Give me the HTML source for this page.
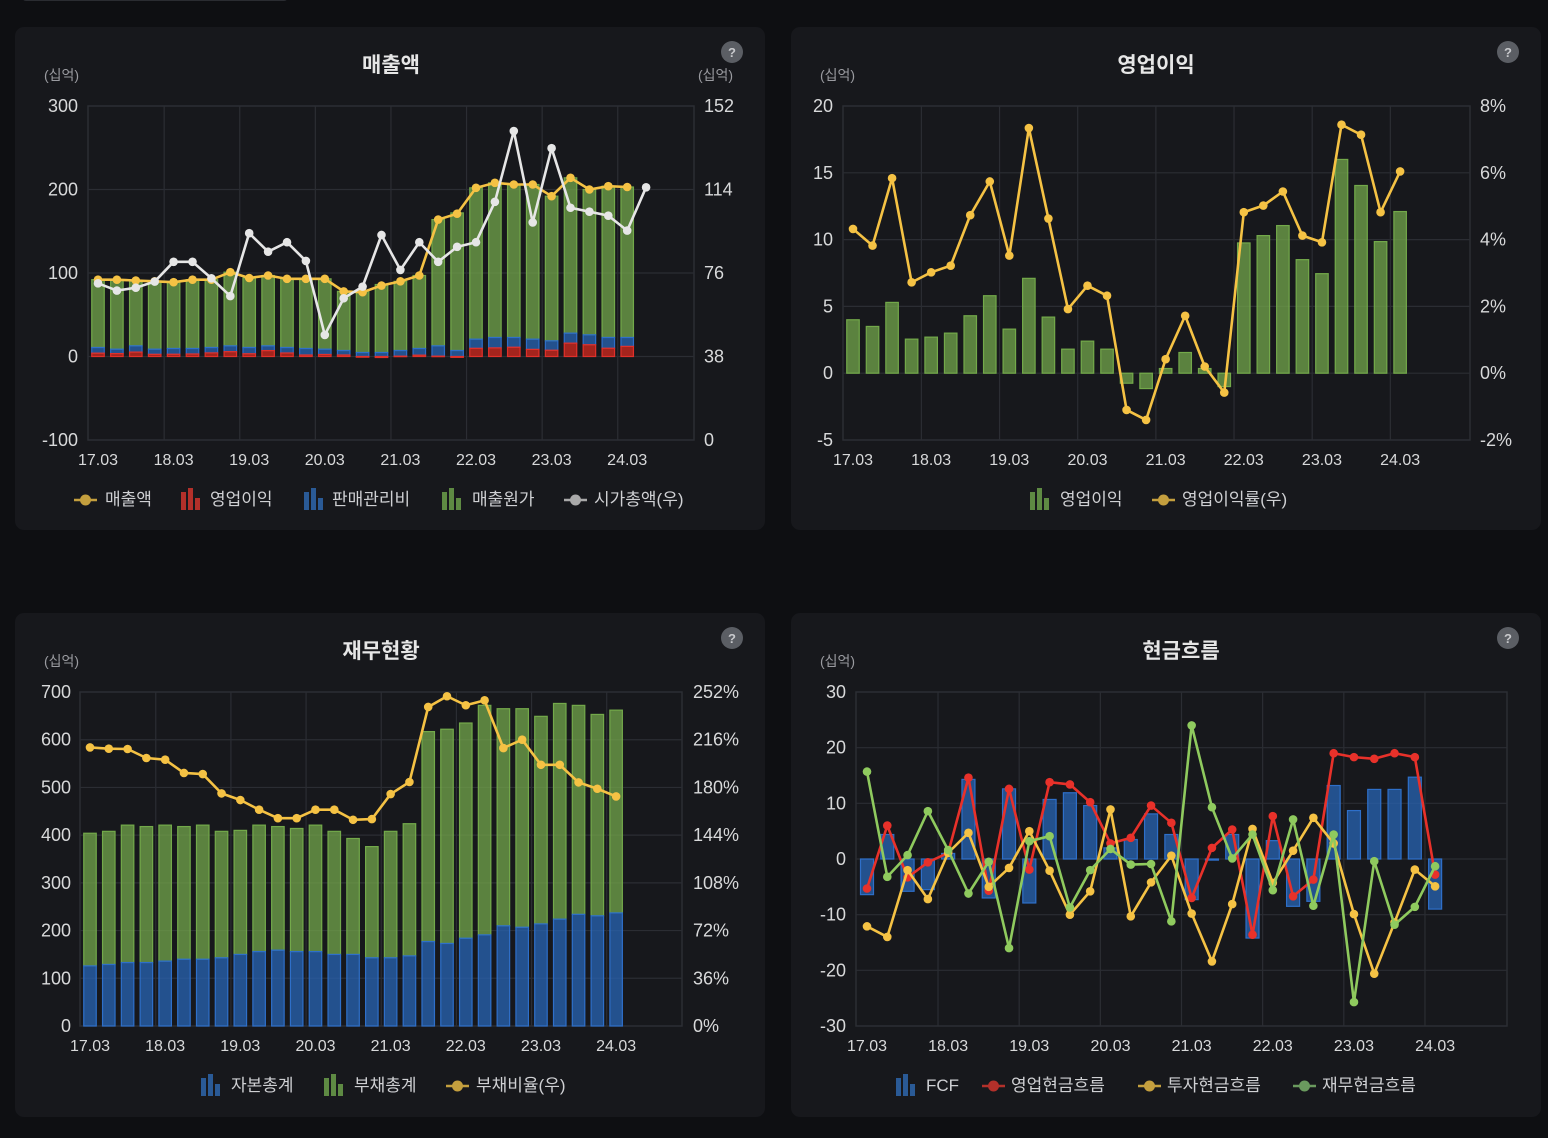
<!DOCTYPE html>
<html><head><meta charset="utf-8">
<style>
html,body{margin:0;padding:0;background:#0e0f12;}
svg{display:block;font-family:"Liberation Sans","Noto Sans CJK KR",sans-serif;}
</style></head>
<body>
<svg id="root" width="1548" height="1138" viewBox="0 0 1548 1138" xmlns="http://www.w3.org/2000/svg">
<rect x="0" y="0" width="1548" height="1138" fill="#0e0f12"/>
<rect x="22" y="-10" width="266" height="11" rx="4" fill="#2a2c31"/>
<rect x="15" y="27" width="750" height="503" rx="9" fill="#17181c"/>
<rect x="791" y="27" width="750" height="503" rx="9" fill="#17181c"/>
<rect x="15" y="613" width="750" height="504" rx="9" fill="#17181c"/>
<rect x="791" y="613" width="750" height="504" rx="9" fill="#17181c"/>

<g fill="#e6e6e6" font-weight="bold" font-size="21" text-anchor="middle">
<text x="391" y="72">매출액</text>
<text x="1156" y="72">영업이익</text>
<text x="381" y="658">재무현황</text>
<text x="1181" y="658">현금흐름</text>
</g>
<g fill="#5b5e64">
<circle cx="732" cy="52" r="11"/>
<circle cx="1508" cy="52" r="11"/>
<circle cx="732" cy="638" r="11"/>
<circle cx="1508" cy="638" r="11"/>
</g>
<g fill="#c8c9cc" font-size="13" text-anchor="middle" font-weight="bold">
<text x="732" y="57">?</text><text x="1508" y="57">?</text><text x="732" y="643">?</text><text x="1508" y="643">?</text>
</g>
<g fill="#9a9ba0" font-size="14">
<text x="44" y="80">(십억)</text>
<text x="698" y="80">(십억)</text>
<text x="820" y="80">(십억)</text>
<text x="44" y="666">(십억)</text>
<text x="820" y="666">(십억)</text>
</g>
<g id="c1"></g>
<g id="c2"></g>
<g id="c3"></g>
<g id="c4"></g>

<!-- legends -->
<g font-size="17" fill="#cfd0d3">
<g><line x1="74" y1="500" x2="97" y2="500" stroke="#c49f3e" stroke-width="2.5"/><circle cx="85.5" cy="500" r="5.5" fill="#c49f3e"/><text x="105" y="505">매출액</text></g>
<g><rect x="181" y="492" width="5" height="18" fill="#b3302a"/><rect x="188" y="488" width="5" height="22" fill="#b3302a"/><rect x="195" y="498" width="5" height="12" fill="#b3302a"/><text x="210" y="505">영업이익</text></g>
<g><rect x="304" y="492" width="5" height="18" fill="#2a5a96"/><rect x="311" y="488" width="5" height="22" fill="#2a5a96"/><rect x="318" y="498" width="5" height="12" fill="#2a5a96"/><text x="332" y="505">판매관리비</text></g>
<g><rect x="442" y="492" width="5" height="18" fill="#5e8a43"/><rect x="449" y="488" width="5" height="22" fill="#5e8a43"/><rect x="456" y="498" width="5" height="12" fill="#5e8a43"/><text x="472" y="505">매출원가</text></g>
<g><line x1="564" y1="500" x2="587" y2="500" stroke="#a9a9a9" stroke-width="2.5"/><circle cx="575.5" cy="500" r="5.5" fill="#a9a9a9"/><text x="594" y="505">시가총액(우)</text></g>

<g><rect x="1030" y="492" width="5" height="18" fill="#5e8a43"/><rect x="1037" y="488" width="5" height="22" fill="#5e8a43"/><rect x="1044" y="498" width="5" height="12" fill="#5e8a43"/><text x="1060" y="505">영업이익</text></g>
<g><line x1="1152" y1="500" x2="1175" y2="500" stroke="#c49f3e" stroke-width="2.5"/><circle cx="1163.5" cy="500" r="5.5" fill="#c49f3e"/><text x="1182" y="505">영업이익률(우)</text></g>

<g><rect x="201" y="1078" width="5" height="18" fill="#2a5a96"/><rect x="208" y="1074" width="5" height="22" fill="#2a5a96"/><rect x="215" y="1084" width="5" height="12" fill="#2a5a96"/><text x="231" y="1091">자본총계</text></g>
<g><rect x="324" y="1078" width="5" height="18" fill="#5e8a43"/><rect x="331" y="1074" width="5" height="22" fill="#5e8a43"/><rect x="338" y="1084" width="5" height="12" fill="#5e8a43"/><text x="354" y="1091">부채총계</text></g>
<g><line x1="446" y1="1086" x2="469" y2="1086" stroke="#c49f3e" stroke-width="2.5"/><circle cx="457.5" cy="1086" r="5.5" fill="#c49f3e"/><text x="476" y="1091">부채비율(우)</text></g>

<g><rect x="896" y="1078" width="5" height="18" fill="#2a5a96"/><rect x="903" y="1074" width="5" height="22" fill="#2a5a96"/><rect x="910" y="1084" width="5" height="12" fill="#2a5a96"/><text x="926" y="1091">FCF</text></g>
<g><line x1="982" y1="1086" x2="1005" y2="1086" stroke="#b3302a" stroke-width="2.5"/><circle cx="993.5" cy="1086" r="5.5" fill="#b3302a"/><text x="1011" y="1091">영업현금흐름</text></g>
<g><line x1="1138" y1="1086" x2="1161" y2="1086" stroke="#c49f3e" stroke-width="2.5"/><circle cx="1149.5" cy="1086" r="5.5" fill="#c49f3e"/><text x="1167" y="1091">투자현금흐름</text></g>
<g><line x1="1293" y1="1086" x2="1316" y2="1086" stroke="#6a9a5e" stroke-width="2.5"/><circle cx="1304.5" cy="1086" r="5.5" fill="#6a9a5e"/><text x="1322" y="1091">재무현금흐름</text></g>
</g>
</svg>
<script>
const quarters = ['17.03','17.06','17.09','17.12','18.03','18.06','18.09','18.12','19.03','19.06','19.09','19.12','20.03','20.06','20.09','20.12','21.03','21.06','21.09','21.12','22.03','22.06','22.09','22.12','23.03','23.06','23.09','23.12','24.03'];
const xTickLabels = ['17.03','18.03','19.03','20.03','21.03','22.03','23.03','24.03'];
// chart 1
const revenue = [92,92,91,90,89,92,92,101,94,97,93,93,93,78,77,85,90,97,164,171,202,208,206,206,192,214,200,204,203];
const opProfit = [4.0,3.5,5.3,2.6,2.7,3.0,4.3,5.8,3.3,7.1,4.2,1.8,2.4,1.8,-0.8,-1.2,0.4,1.6,0.4,-1.0,9.8,10.3,11.1,8.5,7.5,16.0,14.1,9.9,12.1];
const sga = [6.8,5.3,7.5,6.2,6.9,6.6,6.5,7,7.5,5.7,6.6,7.8,6.4,5.4,4.8,4.8,6.8,8,12.4,7.2,11,12.5,11.7,12.3,11.3,12,11.9,12.9,10.7];
const cogs = [81.2,83.2,78.2,81.2,79.4,82.4,81.2,88.2,83.2,84.2,82.2,83.4,84.2,70.8,73,81.4,82.8,87.4,151.2,164.8,181.2,185.2,183.2,185.2,173.2,186,174,181.2,180.2];
const marketCap = [71.3,68.0,69.3,72.1,81.1,81.1,73.6,65.5,94.1,85.7,90.0,81.5,47.8,64.5,69.8,93.3,77.4,90.0,81.1,87.9,90.0,108.4,140.6,99.0,132.8,105.7,103.9,102.1,95.3,115.0];
const c1LeftTicks = [300,200,100,0,-100];
const c1RightTicks = ['152','114','76','38','0'];
// chart 2
const opProfitBars = [4.0,3.5,5.3,2.55,2.7,3.0,4.3,5.8,3.3,7.1,4.2,1.8,2.4,1.8,-0.75,-1.15,0.35,1.55,0.35,-1.0,9.75,10.3,11.05,8.5,7.45,16.0,14.05,9.85,12.1];
const opMargin = [4.32,3.82,5.84,2.72,3.02,3.22,4.73,5.74,3.52,7.34,4.63,1.92,2.62,2.32,-1.1,-1.4,0.42,1.72,0.2,-0.58,4.82,5.02,5.44,4.12,3.92,7.44,7.14,4.82,6.04];
const c2LeftTicks = [20,15,10,5,0,-5];
const c2RightTicks = ['8%','6%','4%','2%','0%','-2%'];
// chart 3
const totalAssets = [404,408,421,418,421,418,421,408,410,421,418,414,421,408,393,376,408,424,617,622,635,672,665,665,649,676,672,653,662];
const equity = [126,129,133,133,136,140,140,143,150,156,159,156,156,150,150,143,143,147,177,173,184,191,210,207,214,224,234,231,237];
const debtRatio = [210.2,209.2,209,202.2,200.9,190.9,190.1,175.5,170.5,163.2,156.8,156.8,163.2,163.2,155.6,156.1,175,184.1,240.7,248.8,242,245.7,209.7,216,197.1,197.1,183.8,179,173.2];
const c3LeftTicks = [700,600,500,400,300,200,100,0];
const c3RightTicks = ['252%','216%','180%','144%','108%','72%','36%','0%'];
// chart 4
const fcf = [-6.4,4.4,-5.8,-5.5,1,14.3,-7,12.6,-7.9,10.7,11.9,9.6,2,3.5,8.1,4.4,-7.3,-0.2,4.4,-14.2,3.3,-8.5,-7.6,13.2,8.7,12.5,12.5,14.7,-9.0];
const operatingCF = [-5.3,6.0,-3.3,-0.6,1.1,14.6,-5.7,12.6,-1.9,13.8,13.4,10.2,2.8,3.8,9.6,6.5,-7.0,2.0,5.3,-13.6,7.7,-6.7,-3.7,19.0,18.3,18.0,19.0,18.3,-2.8];
const investingCF = [-12.1,-14.0,-2.0,-7.2,1.1,4.7,-5.0,-1.6,5.0,-2.1,-10.0,-5.8,8.9,-10.3,-4.2,0.6,-9.8,-18.4,-8.1,5.4,-4.3,1.5,7.4,2.8,-9.9,-20.6,-11.4,-1.9,-4.9];
const financingCF = [15.7,-3.2,0.7,8.6,1.6,-6.2,-0.5,-16.0,3.2,4.1,-8.7,-2.0,1.8,-1.0,-0.9,-11.2,24.0,9.3,0.1,4.4,-5.6,7.1,-8.4,4.4,-25.7,-0.4,-11.8,-8.6,-1.3];
const c4LeftTicks = [30,20,10,0,-10,-20,-30];

const NS='http://www.w3.org/2000/svg';
function mk(tag,parent,attrs){const e=document.createElementNS(NS,tag);for(const k in attrs)e.setAttribute(k,attrs[k]);parent.appendChild(e);return e;}
function lin(d0,d1,r0,r1){return v=>r0+(v-d0)*(r1-d0===0?0:1)*(r1-r0)/(d1-d0);}

function frame(g,L,R,T,B,xs,leftTicks,yL,rightTicks,yR,labelLeftX,labelRightX,xLabelY){
  // horizontal grid
  leftTicks.forEach((t,i)=>{const y=yL(t);
    const gl=mk('line',g,{x1:L,x2:R,y1:y,y2:y,stroke:'#2b2d33','stroke-width':1.2});
    
    
    const tx=mk('text',g,{x:labelLeftX,y:y+6,'text-anchor':'end',fill:'#d8d9da','font-size':18});
    tx.textContent=t;
    
    
    if(rightTicks){const rt=mk('text',g,{x:labelRightX,y:y+6,'text-anchor':'start',fill:'#d8d9da','font-size':18});
      rt.textContent=rightTicks[i];
      
      }
  });
  for(let k=0;k<7;k++){const x=xs(3.5+4*k);
    const vl=mk('line',g,{x1:x,x2:x,y1:T,y2:B,stroke:'#2b2d33','stroke-width':1.2});
    
    }
  const bd=mk('rect',g,{x:L,y:T,width:R-L,height:B-T,fill:'none',stroke:'#2b2d33','stroke-width':1.5});
  
  
  xTickLabels.forEach(lab=>{const i=quarters.indexOf(lab);
    const t=mk('text',g,{x:xs(i),y:xLabelY,'text-anchor':'middle',fill:'#d8d9da','font-size':16});
    t.textContent=lab;
    
    });
}
function bar(g,x,w,y1,y2,fill,stroke,name){
  const r=mk('rect',g,{x:x-w/2,y:Math.min(y1,y2),width:w,height:Math.max(0.5,Math.abs(y2-y1)),fill:fill,stroke:stroke,'stroke-width':1.2});
  
  
  return r;
}
function series(g,vals,xs,ys,color,name,r){
  const pts=vals.map((v,i)=>xs(i)+','+ys(v)).join(' ');
  const pl=mk('polyline',g,{points:pts,fill:'none',stroke:color,'stroke-width':2.6,'stroke-linejoin':'round'});
  
  
  vals.forEach((v,i)=>{const c=mk('circle',g,{cx:xs(i),cy:ys(v),r:r||4.3,fill:color});
    
    });
}

// Chart 1
(function(){
  const g=document.getElementById('c1');
  const xs=i=>98+18.9*i;
  const y=lin(-100,300,440,106);
  const yR=lin(0,152,440,106);
  frame(g,88,694,106,440,xs,c1LeftTicks,y,c1RightTicks,yR,78,704,465);
  quarters.forEach((q,i)=>{
    const op=opProfit[i], base=Math.max(op,0);
    bar(g,xs(i),12.5,y(base+sga[i]),y(base+sga[i]+cogs[i]),'rgba(115,165,75,0.75)','#73a94a','bar-cogs');
    bar(g,xs(i),12.5,y(base),y(base+sga[i]),'rgba(40,100,180,0.75)','#2e6fc9','bar-sga');
    bar(g,xs(i),12.5,y(0),y(op),'rgba(200,40,30,0.8)','#e0302a','bar-operating-profit');
  });
  series(g,revenue,xs,y,'#f5c244','revenue');
  series(g,marketCap,xs,yR,'#e6e6e6','market-cap');
})();
// Chart 2
(function(){
  const g=document.getElementById('c2');
  const xs=i=>853+19.54*i;
  const y=lin(-5,20,440,106);
  const yR=lin(-2,8,440,106);
  frame(g,843,1470,106,440,xs,c2LeftTicks,y,c2RightTicks,yR,833,1480,465);
  opProfitBars.forEach((v,i)=>bar(g,xs(i),12.5,y(0),y(v),'rgba(115,165,75,0.75)','#73a94a','bar-operating-profit'));
  series(g,opMargin,xs,yR,'#f5c244','operating-margin');
})();
// Chart 3
(function(){
  const g=document.getElementById('c3');
  const xs=i=>90+18.79*i;
  const y=lin(0,700,1026,692);
  const yR=lin(0,252,1026,692);
  frame(g,80,682,692,1026,xs,c3LeftTicks,y,c3RightTicks,yR,71,693,1051);
  quarters.forEach((q,i)=>{
    bar(g,xs(i),12.5,y(equity[i]),y(totalAssets[i]),'rgba(115,165,75,0.75)','#73a94a','bar-liabilities');
    bar(g,xs(i),12.5,y(0),y(equity[i]),'rgba(40,100,180,0.75)','#2e6fc9','bar-equity');
  });
  series(g,debtRatio,xs,yR,'#f5c244','debt-ratio');
})();
// Chart 4
(function(){
  const g=document.getElementById('c4');
  const xs=i=>867+20.29*i;
  const y=lin(-30,30,1026,692);
  frame(g,856,1507,692,1026,xs,c4LeftTicks,y,null,null,846,0,1051);
  fcf.forEach((v,i)=>bar(g,xs(i),13,y(0),y(v),'rgba(40,100,180,0.75)','#2e6fc9','bar-fcf'));
  series(g,operatingCF,xs,y,'#e8312a','operating-cf');
  series(g,investingCF,xs,y,'#f5c244','investing-cf');
  series(g,financingCF,xs,y,'#8fca5e','financing-cf');
})();
</script>
</body></html>
